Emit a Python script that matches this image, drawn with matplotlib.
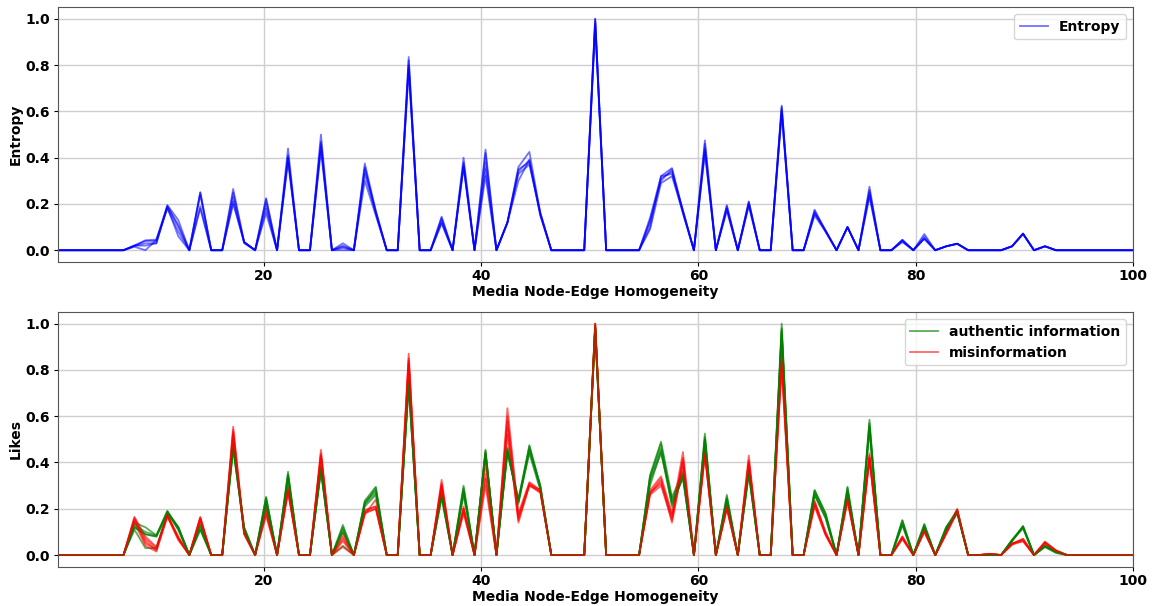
import numpy as np
import matplotlib
matplotlib.use("Agg")
import matplotlib.pyplot as plt

# homogeneity axis: 99 samples between 1 and 100
x = np.linspace(1, 100, 99)

# entropy, one list per simulation run
entropy_runs = [
    [0, 0, 0, 0, 0, 0, 0, 0.02, 0.043, 0.046,
     0.195, 0.13, 0, 0.25, 0, 0, 0.265, 0.035, 0, 0.225,
     0, 0.44, 0, 0, 0.5, 0, 0.03, 0, 0.375, 0.17,
     0, 0, 0.835, 0, 0, 0.145, 0, 0.4, 0, 0.435,
     0, 0.12, 0.36, 0.425, 0.16, 0, 0, 0, 0, 1.0,
     0, 0, 0, 0, 0.14, 0.32, 0.355, 0.17, 0, 0.475,
     0, 0.195, 0, 0.21, 0, 0, 0.625, 0, 0, 0.175,
     0.085, 0, 0.1, 0, 0.275, 0, 0, 0.045, 0, 0.07,
     0, 0.017, 0.028, 0, 0, 0, 0, 0.017, 0.072, 0,
     0.017, 0, 0, 0, 0, 0, 0, 0, 0],
    [0, 0, 0, 0, 0, 0, 0, 0.02, 0.02, 0.03,
     0.19, 0.1, 0, 0.18, 0, 0, 0.2, 0.035, 0, 0.16,
     0, 0.4, 0, 0, 0.45, 0, 0.015, 0, 0.33, 0.16,
     0, 0, 0.78, 0, 0, 0.115, 0, 0.36, 0, 0.35,
     0, 0.12, 0.3, 0.39, 0.15, 0, 0, 0, 0, 0.98,
     0, 0, 0, 0, 0.09, 0.29, 0.32, 0.16, 0, 0.42,
     0, 0.17, 0, 0.19, 0, 0, 0.59, 0, 0, 0.15,
     0.08, 0, 0.1, 0, 0.23, 0, 0, 0.035, 0, 0.05,
     0, 0.017, 0.028, 0, 0, 0, 0, 0.017, 0.07, 0,
     0.017, 0, 0, 0, 0, 0, 0, 0, 0],
    [0, 0, 0, 0, 0, 0, 0, 0.015, 0.0, 0.045,
     0.18, 0.08, 0, 0.24, 0, 0, 0.23, 0.03, 0, 0.2,
     0, 0.38, 0, 0, 0.43, 0, 0.0, 0, 0.3, 0.15,
     0, 0, 0.8, 0, 0, 0.13, 0, 0.37, 0, 0.32,
     0, 0.12, 0.33, 0.37, 0.16, 0, 0, 0, 0, 1.0,
     0, 0, 0, 0, 0.12, 0.31, 0.34, 0.17, 0, 0.44,
     0, 0.18, 0, 0.2, 0, 0, 0.61, 0, 0, 0.16,
     0.085, 0, 0.1, 0, 0.25, 0, 0, 0.04, 0, 0.05,
     0, 0.017, 0.028, 0, 0, 0, 0, 0.017, 0.072, 0,
     0.017, 0, 0, 0, 0, 0, 0, 0, 0],
    [0, 0, 0, 0, 0, 0, 0, 0.02, 0.04, 0.04,
     0.185, 0.06, 0, 0.19, 0, 0, 0.21, 0.035, 0, 0.18,
     0, 0.4, 0, 0, 0.47, 0, 0.02, 0, 0.35, 0.17,
     0, 0, 0.82, 0, 0, 0.14, 0, 0.38, 0, 0.42,
     0, 0.12, 0.35, 0.38, 0.15, 0, 0, 0, 0, 0.99,
     0, 0, 0, 0, 0.13, 0.3, 0.35, 0.16, 0, 0.46,
     0, 0.19, 0, 0.21, 0, 0, 0.6, 0, 0, 0.17,
     0.08, 0, 0.1, 0, 0.26, 0, 0, 0.045, 0, 0.06,
     0, 0.017, 0.028, 0, 0, 0, 0, 0.017, 0.07, 0,
     0.017, 0, 0, 0, 0, 0, 0, 0, 0],
    [0, 0, 0, 0, 0, 0, 0, 0.018, 0.03, 0.03,
     0.19, 0.11, 0, 0.25, 0, 0, 0.25, 0.035, 0, 0.22,
     0, 0.41, 0, 0, 0.46, 0, 0.01, 0, 0.36, 0.16,
     0, 0, 0.79, 0, 0, 0.12, 0, 0.36, 0, 0.38,
     0, 0.12, 0.34, 0.39, 0.16, 0, 0, 0, 0, 0.97,
     0, 0, 0, 0, 0.1, 0.32, 0.33, 0.17, 0, 0.43,
     0, 0.18, 0, 0.2, 0, 0, 0.62, 0, 0, 0.16,
     0.085, 0, 0.1, 0, 0.24, 0, 0, 0.04, 0, 0.05,
     0, 0.017, 0.028, 0, 0, 0, 0, 0.017, 0.072, 0,
     0.017, 0, 0, 0, 0, 0, 0, 0, 0],
]

# likes of authentic information, one list per run
authentic_runs = [
    [0, 0, 0, 0, 0, 0, 0, 0.14, 0.12, 0.085,
     0.19, 0.12, 0, 0.135, 0, 0, 0.48, 0.12, 0, 0.25,
     0, 0.36, 0, 0, 0.38, 0, 0.13, 0, 0.235, 0.295,
     0, 0, 0.76, 0, 0, 0.27, 0, 0.3, 0, 0.455,
     0, 0.465, 0.24, 0.475, 0.3, 0, 0, 0, 0, 1.0,
     0, 0, 0, 0, 0.345, 0.49, 0.25, 0.36, 0, 0.525,
     0, 0.26, 0, 0.37, 0, 0, 1.0, 0, 0, 0.28,
     0.18, 0, 0.295, 0, 0.585, 0, 0, 0.15, 0, 0.135,
     0, 0.12, 0.195, 0, 0, 0, 0, 0.065, 0.125, 0,
     0.04, 0.015, 0, 0, 0, 0, 0, 0, 0],
    [0, 0, 0, 0, 0, 0, 0, 0.12, 0.09, 0.08,
     0.18, 0.11, 0, 0.11, 0, 0, 0.46, 0.11, 0, 0.23,
     0, 0.33, 0, 0, 0.37, 0, 0.1, 0, 0.22, 0.27,
     0, 0, 0.74, 0, 0, 0.25, 0, 0.27, 0, 0.44,
     0, 0.45, 0.23, 0.45, 0.29, 0, 0, 0, 0, 0.98,
     0, 0, 0, 0, 0.33, 0.46, 0.22, 0.34, 0, 0.5,
     0, 0.24, 0, 0.35, 0, 0, 0.96, 0, 0, 0.26,
     0.16, 0, 0.27, 0, 0.55, 0, 0, 0.13, 0, 0.12,
     0, 0.11, 0.18, 0, 0, 0, 0, 0.06, 0.12, 0,
     0.035, 0.01, 0, 0, 0, 0, 0, 0, 0],
    [0, 0, 0, 0, 0, 0, 0, 0.11, 0.03, 0.03,
     0.185, 0.12, 0, 0.12, 0, 0, 0.47, 0.12, 0, 0.24,
     0, 0.34, 0, 0, 0.38, 0, 0.04, 0, 0.23, 0.28,
     0, 0, 0.75, 0, 0, 0.26, 0, 0.28, 0, 0.45,
     0, 0.44, 0.24, 0.46, 0.3, 0, 0, 0, 0, 0.99,
     0, 0, 0, 0, 0.32, 0.44, 0.24, 0.35, 0, 0.51,
     0, 0.25, 0, 0.36, 0, 0, 0.98, 0, 0, 0.27,
     0.17, 0, 0.28, 0, 0.57, 0, 0, 0.14, 0, 0.13,
     0, 0.12, 0.19, 0, 0, 0, 0, 0.065, 0.115, 0,
     0.04, 0.015, 0, 0, 0, 0, 0, 0, 0],
    [0, 0, 0, 0, 0, 0, 0, 0.13, 0.1, 0.085,
     0.19, 0.11, 0, 0.13, 0, 0, 0.48, 0.1, 0, 0.25,
     0, 0.35, 0, 0, 0.36, 0, 0.12, 0, 0.22, 0.29,
     0, 0, 0.73, 0, 0, 0.27, 0, 0.29, 0, 0.43,
     0, 0.46, 0.22, 0.47, 0.29, 0, 0, 0, 0, 0.97,
     0, 0, 0, 0, 0.34, 0.48, 0.23, 0.33, 0, 0.49,
     0, 0.23, 0, 0.37, 0, 0, 0.95, 0, 0, 0.28,
     0.18, 0, 0.29, 0, 0.54, 0, 0, 0.15, 0, 0.125,
     0, 0.11, 0.185, 0, 0, 0, 0, 0.06, 0.125, 0,
     0.035, 0.01, 0, 0, 0, 0, 0, 0, 0],
    [0, 0, 0, 0, 0, 0, 0, 0.12, 0.09, 0.08,
     0.18, 0.12, 0, 0.11, 0, 0, 0.46, 0.11, 0, 0.22,
     0, 0.34, 0, 0, 0.37, 0, 0.11, 0, 0.21, 0.26,
     0, 0, 0.74, 0, 0, 0.25, 0, 0.26, 0, 0.44,
     0, 0.45, 0.23, 0.44, 0.28, 0, 0, 0, 0, 0.98,
     0, 0, 0, 0, 0.3, 0.45, 0.21, 0.34, 0, 0.5,
     0, 0.24, 0, 0.35, 0, 0, 0.97, 0, 0, 0.26,
     0.16, 0, 0.27, 0, 0.56, 0, 0, 0.13, 0, 0.12,
     0, 0.12, 0.18, 0, 0, 0, 0, 0.065, 0.12, 0,
     0.04, 0.015, 0, 0, 0, 0, 0, 0, 0],
]

# likes of misinformation, one list per run
misinfo_runs = [
    [0, 0, 0, 0, 0, 0, 0, 0.165, 0.08, 0.035,
     0.17, 0.08, 0, 0.165, 0, 0, 0.555, 0.1, 0, 0.21,
     0, 0.295, 0, 0, 0.455, 0, 0.095, 0, 0.195, 0.21,
     0, 0, 0.87, 0, 0, 0.325, 0, 0.21, 0, 0.44,
     0, 0.635, 0.18, 0.315, 0.28, 0, 0, 0, 0, 1.0,
     0, 0, 0, 0, 0.28, 0.34, 0.18, 0.445, 0, 0.46,
     0, 0.22, 0, 0.43, 0, 0, 0.88, 0, 0, 0.235,
     0.095, 0, 0.25, 0, 0.44, 0, 0, 0.08, 0, 0.11,
     0, 0.1, 0.2, 0, 0, 0.005, 0, 0.05, 0.07, 0,
     0.058, 0.02, 0, 0, 0, 0, 0, 0, 0],
    [0, 0, 0, 0, 0, 0, 0, 0.15, 0.06, 0.02,
     0.175, 0.07, 0, 0.15, 0, 0, 0.53, 0.09, 0, 0.18,
     0, 0.28, 0, 0, 0.43, 0, 0.06, 0, 0.18, 0.2,
     0, 0, 0.84, 0, 0, 0.3, 0, 0.19, 0, 0.3,
     0, 0.55, 0.14, 0.3, 0.27, 0, 0, 0, 0, 0.99,
     0, 0, 0, 0, 0.265, 0.32, 0.14, 0.4, 0, 0.44,
     0, 0.2, 0, 0.4, 0, 0, 0.81, 0, 0, 0.22,
     0.09, 0, 0.24, 0, 0.42, 0, 0, 0.07, 0, 0.1,
     0, 0.095, 0.19, 0, 0, 0.005, 0, 0.045, 0.06, 0,
     0.05, 0.015, 0, 0, 0, 0, 0, 0, 0],
    [0, 0, 0, 0, 0, 0, 0, 0.14, 0.04, 0.015,
     0.165, 0.065, 0, 0.16, 0, 0, 0.54, 0.1, 0, 0.2,
     0, 0.29, 0, 0, 0.44, 0, 0.035, 0, 0.19, 0.21,
     0, 0, 0.85, 0, 0, 0.31, 0, 0.2, 0, 0.35,
     0, 0.52, 0.16, 0.31, 0.28, 0, 0, 0, 0, 1.0,
     0, 0, 0, 0, 0.27, 0.33, 0.16, 0.42, 0, 0.45,
     0, 0.21, 0, 0.41, 0, 0, 0.84, 0, 0, 0.23,
     0.1, 0, 0.25, 0, 0.43, 0, 0, 0.08, 0, 0.11,
     0, 0.1, 0.195, 0, 0, 0.005, 0, 0.05, 0.065, 0,
     0.055, 0.02, 0, 0, 0, 0, 0, 0, 0],
    [0, 0, 0, 0, 0, 0, 0, 0.16, 0.07, 0.03,
     0.17, 0.075, 0, 0.155, 0, 0, 0.5, 0.095, 0, 0.19,
     0, 0.27, 0, 0, 0.42, 0, 0.08, 0, 0.175, 0.24,
     0, 0, 0.82, 0, 0, 0.29, 0, 0.18, 0, 0.4,
     0, 0.58, 0.15, 0.305, 0.27, 0, 0, 0, 0, 0.98,
     0, 0, 0, 0, 0.26, 0.3, 0.15, 0.38, 0, 0.43,
     0, 0.2, 0, 0.39, 0, 0, 0.86, 0, 0, 0.21,
     0.085, 0, 0.23, 0, 0.41, 0, 0, 0.075, 0, 0.1,
     0, 0.09, 0.185, 0, 0, 0.005, 0, 0.045, 0.07, 0,
     0.05, 0.015, 0, 0, 0, 0, 0, 0, 0],
    [0, 0, 0, 0, 0, 0, 0, 0.155, 0.05, 0.025,
     0.175, 0.07, 0, 0.16, 0, 0, 0.52, 0.09, 0, 0.17,
     0, 0.28, 0, 0, 0.43, 0, 0.07, 0, 0.185, 0.2,
     0, 0, 0.83, 0, 0, 0.3, 0, 0.2, 0, 0.33,
     0, 0.6, 0.17, 0.3, 0.28, 0, 0, 0, 0, 0.99,
     0, 0, 0, 0, 0.27, 0.31, 0.17, 0.41, 0, 0.44,
     0, 0.21, 0, 0.4, 0, 0, 0.83, 0, 0, 0.22,
     0.09, 0, 0.24, 0, 0.42, 0, 0, 0.07, 0, 0.105,
     0, 0.095, 0.19, 0, 0, 0.005, 0, 0.05, 0.06, 0,
     0.055, 0.02, 0, 0, 0, 0, 0, 0, 0],
]

plt.rcParams['font.weight'] = 'bold'
plt.rcParams['axes.labelweight'] = 'bold'
plt.rcParams['font.size'] = 10

fig = plt.figure(figsize=(11.6, 6.06), dpi=100)
ax1 = fig.add_axes([0.0497, 0.568, 0.9268, 0.420])
ax2 = fig.add_axes([0.0497, 0.065, 0.9268, 0.420])

# top: entropy
for k, run in enumerate(entropy_runs):
    ax1.plot(x, run, color='blue', alpha=0.55, lw=1.3,
             label='Entropy' if k == 0 else None)
ax1.set_xlim(1, 100)
ax1.set_xlabel('Media Node-Edge Homogeneity')
ax1.set_ylabel('Entropy')
ax1.legend(loc='upper right')

# bottom: likes
for k in range(len(authentic_runs)):
    ax2.plot(x, authentic_runs[k], color='green', alpha=0.65, lw=1.3,
             label='authentic information' if k == 0 else None)
    ax2.plot(x, misinfo_runs[k], color='red', alpha=0.6, lw=1.3,
             label='misinformation' if k == 0 else None)
ax2.set_xlim(1, 100)
ax2.set_xlabel('Media Node-Edge Homogeneity')
ax2.set_ylabel('Likes')
ax2.legend(loc='upper right')

for ax in (ax1, ax2):
    ax.grid(True, color='#cfcfcf', lw=1)
    ax.set_axisbelow(True)
    ax.set_xticks([20, 40, 60, 80, 100])
    ax.set_yticks([0.0, 0.2, 0.4, 0.6, 0.8, 1.0])
    ax.tick_params(length=3, pad=2.5)
    ax.xaxis.labelpad = 1
    ax.yaxis.labelpad = 2
    for s in ax.spines.values():
        s.set_color('#555555')

fig.savefig('out.png', dpi=100)
